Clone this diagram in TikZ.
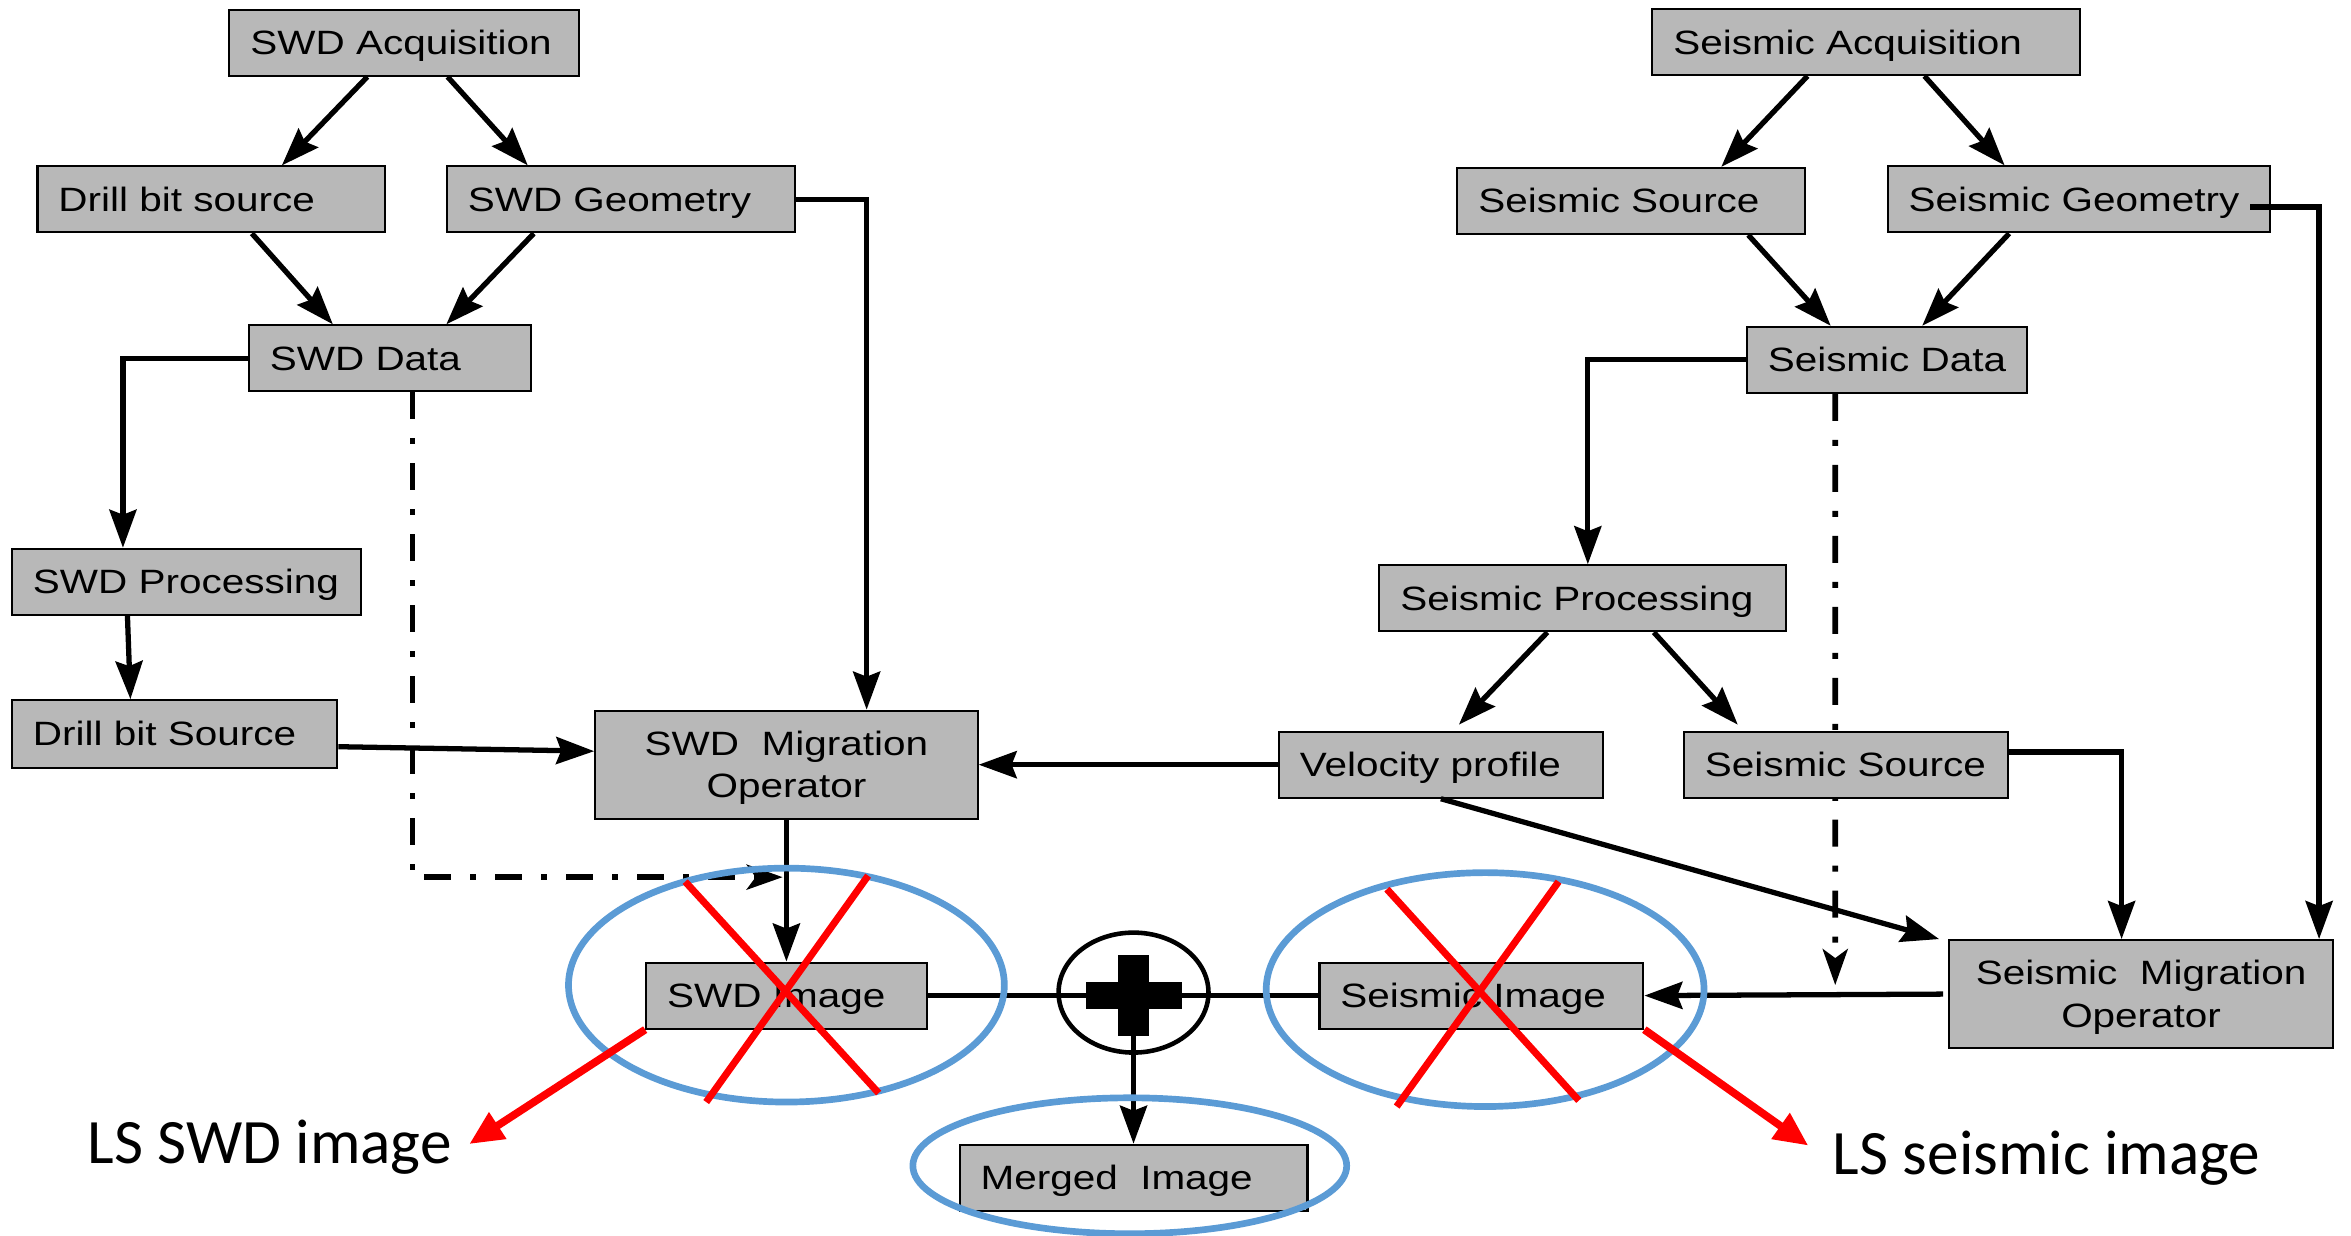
\documentclass[tikz,border=0pt]{standalone}
\usepackage{fontspec}
\setmainfont{Liberation Sans}
\newfontfamily\boxfont[FakeStretch=1.2]{Liberation Sans}
\newfontfamily\lsfont{Carlito}
\usetikzlibrary{arrows.meta,shapes.geometric,backgrounds}
\definecolor{boxgray}{HTML}{B8B8B8}
\definecolor{ellblue}{HTML}{5B9BD5}
\definecolor{xred}{HTML}{FF0000}
\begin{document}
\begin{tikzpicture}[x=0.015cm,y=-0.015cm,
  box/.style={draw=black, line width=0.6pt, fill=boxgray, inner xsep=0.21cm, inner ysep=0pt,
    minimum height=0.66cm, align=left, text height=6.85pt, text depth=0pt,
    font=\boxfont\fontsize{9.6}{12.1}\selectfont},
  migbox/.style={box, align=center, minimum height=1.08cm, text depth=12.1pt},
  arr/.style={line width=1.5pt, -{Stealth[length=3.8mm,width=2.7mm,inset=0.5mm]}},
  plainline/.style={line width=1.5pt},
  dashdot/.style={line width=1.6pt, dash pattern=on 0.27cm off 0.19cm on 0.06cm off 0.19cm,
    -{Stealth[length=3.6mm,width=2.5mm,inset=0.9mm]}},
  redx/.style={xred, line width=2pt},
  redarr/.style={xred, line width=2.2pt, -{Triangle[length=3.4mm,width=3mm]}},
  blueell/.style={ellblue, line width=1.9pt},
  lslabel/.style={font=\lsfont\fontsize{18}{20}\selectfont, inner sep=0pt, anchor=base west}
]
\useasboundingbox (0,0) rectangle (1568,824);

% ---------- SWD side ----------
\node[box, text width=3.075cm] (swdacq)  at (269.5,28.5) {SWD Acquisition};
\node[box, text width=3.06cm]  (dbsrc)   at (141,133)    {Drill bit source};
\node[box, text width=3.06cm]  (swdgeo)  at (414,133)    {SWD Geometry};
\node[box, text width=2.40cm]  (swddata) at (260,239)    {SWD Data};
\node[box, text width=3.075cm] (swdproc) at (124.5,388)  {SWD Processing};
\node[box, text width=2.835cm, minimum height=0.675cm] (dbSrc) at (116.5,489.5) {Drill bit Source};
\node[migbox, text width=3.405cm] (swdmig) at (524.5,510) {SWD\ \ Migration\\Operator};
\node[box, text width=2.385cm] (swdimg)  at (524.5,664)  {SWD Image};
\node[box, text width=3.06cm]  (merged)  at (756,785.5)  {Merged\ \ Image};

% ---------- Seismic side ----------
\node[box, text width=3.855cm] (sacq)   at (1244.5,28)  {Seismic Acquisition};
\node[box, text width=3.06cm]  (ssrct)  at (1088,134)   {Seismic Source};
\node[box, text width=3.405cm] (sgeo)   at (1386.5,133) {Seismic Geometry};
\node[box, text width=2.385cm] (sdata)  at (1258.5,240) {Seismic Data};
\node[box, text width=3.645cm] (sproc)  at (1055.5,399) {Seismic Processing};
\node[box, text width=2.82cm]  (velo)   at (961,510)    {Velocity profile};
\node[box, text width=2.82cm]  (ssrcm)  at (1231,510)   {Seismic Source};
\node[migbox, text width=3.42cm] (smig) at (1428,663)   {Seismic\ \ Migration\\Operator};
\node[box, text width=2.82cm]  (simg)   at (988,664)    {Seismic Image};

% join points of the dash-dot connectors
\coordinate (swdjoin) at (522,585);
\coordinate (sjoin) at (1224,657);

% dash-dot connectors behind the boxes
\begin{pgfonlayer}{background}
\draw[dashdot] ([xshift=0.225cm]swddata.south) |- (swdjoin);
\draw[dashdot] ([xshift=-0.5175cm]sdata.south) -- (sjoin);
\end{pgfonlayer}

% ---------- SWD connectors ----------
\draw[arr] ([xshift=-0.3675cm]swdacq.south) -- ([xshift=0.705cm]dbsrc.north);
\draw[arr] ([xshift=0.435cm]swdacq.south) -- ([xshift=-0.93cm]swdgeo.north);
\draw[arr] ([xshift=0.405cm]dbsrc.south) -- ([xshift=-0.57cm]swddata.north);
\draw[arr] ([xshift=-0.87cm]swdgeo.south) -- ([xshift=0.565cm]swddata.north);
\draw[arr] (swdgeo.east) -| ([xshift=0.8025cm]swdmig.north);
\draw[arr] (swddata.west) -| ([xshift=-0.6375cm]swdproc.north);
\draw[arr] ([xshift=-0.5925cm]swdproc.south) -- ([xshift=-0.4425cm]dbSrc.north);
\draw[arr] ([yshift=-0.1275cm]dbSrc.east) -- ([yshift=0.135cm]swdmig.west);
\draw[arr] (swdmig.south) -- (swdimg.north);

% ---------- Seismic connectors ----------
\draw[arr] ([xshift=-0.585cm]sacq.south) -- ([xshift=0.9cm]ssrct.north);
\draw[arr] ([xshift=0.585cm]sacq.south) -- ([xshift=-0.7425cm]sgeo.north);
\draw[arr] ([xshift=1.17cm]ssrct.south) -- ([xshift=-0.5625cm]sdata.north);
\draw[arr] ([xshift=-0.6975cm]sgeo.south) -- ([xshift=0.3525cm]sdata.north);
\draw[arr] ([xshift=-0.21cm,yshift=-0.075cm]sgeo.east) -| ([xshift=-0.15cm]smig.north east);
\draw[arr] (sdata.west) -| ([xshift=0.0525cm]sproc.north);
\draw[arr] ([xshift=-0.3525cm]sproc.south) -- ([xshift=0.18cm,yshift=0.06cm]velo.north);
\draw[arr] ([xshift=0.7125cm]sproc.south) -- ([xshift=-1.08cm,yshift=0.06cm]ssrcm.north);
\draw[arr] (velo.west) -- (swdmig.east);
\draw[arr] (velo.south) -- ([xshift=-0.09cm]smig.north west);
\draw[arr] ([yshift=0.1275cm]ssrcm.east) -| ([xshift=-0.195cm]smig.north);
\draw[arr] ([xshift=-0.05cm]smig.west) -- (simg.east);

% ---------- merge ----------
\node[draw, ellipse, line width=1.3pt, minimum width=1.5cm, minimum height=1.2cm, inner sep=0pt] (plus) at (756,662) {};
\draw[plainline] (swdimg.east) -- (simg.west);
\draw[arr] (plus.center) -- (merged.north);
\fill[black] (745.5,637) rectangle (766,691);
\fill[black] (724,655) rectangle (788,673);

% ---------- blue ellipses ----------
\draw[blueell] (524.5,657) ellipse [x radius=2.18cm, y radius=1.17cm];
\draw[blueell] (990.5,660) ellipse [x radius=2.19cm, y radius=1.17cm];
\draw[blueell] (753.5,777.5) ellipse [x radius=2.17cm, y radius=0.68cm];

% ---------- red crosses ----------
\draw[redx] (457,588) -- (586,729);
\draw[redx] (579,584) -- (471,735);
\draw[redx] (925,593) -- (1053,734);
\draw[redx] (1039.5,588) -- (931.5,738);

% ---------- LS labels ----------
\node[lslabel] (lsswd) at (58,776) {LS SWD image};
\node[lslabel] (lsseis) at (1222,783) {LS seismic image};
\coordinate (lsswdtip) at (313,763);
\coordinate (lsseistip) at (1206,764);
\draw[redarr] (swdimg.south west) -- (lsswdtip);
\draw[redarr] (simg.south east) -- (lsseistip);
\end{tikzpicture}
\end{document}
